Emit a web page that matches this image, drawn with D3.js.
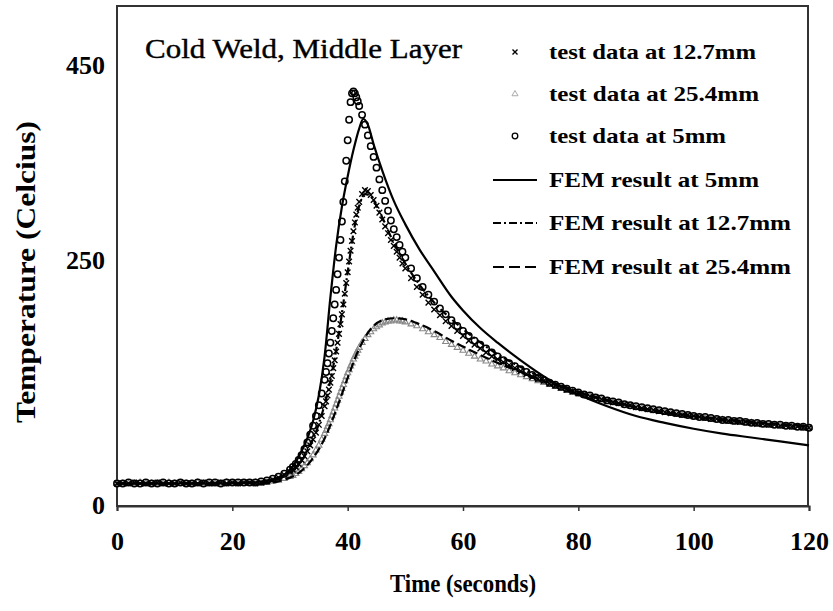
<!DOCTYPE html>
<html><head><meta charset="utf-8">
<script src="https://cdn.jsdelivr.net/npm/d3@7"></script>
<style>body{margin:0;background:#fff}svg{display:block}</style>
</head><body>
<svg id="chart" width="833" height="611"></svg>
<script>
// ---- data ----
const sampleTimes = [0,1,2,3,4,5,6,7,8,9,10,11,12,13,14,15,16,17,18,19,20,21,22,23,24,25,26,27,28,29,30,
30.5,31,31.5,32,32.5,33,33.5,34,34.5,35,35.5,36,
36.25,36.5,36.75,37,37.25,37.5,37.75,38,38.25,38.5,38.75,39,39.25,39.5,39.75,40,40.25,40.5,40.75,41,41.25,41.5,41.75,42,
42.5,43,43.5,44,44.5,45,45.5,46,46.5,47,47.5,48,48.5,49,49.5,50,
51,52,53,54,55,56,57,58,59,60,61,62,63,64,65,66,67,68,69,70,71,72,73,74,75,76,77,78,79,80,81,82,83,84,85,86,87,88,89,90,
91,92,93,94,95,96,97,98,99,100,101,102,103,104,105,106,107,108,109,110,111,112,113,114,115,116,117,118,119,120];

const test5mm = [22,22,23,22,22,23,22,22,23,22,22,23,22,22,23,22,23,23,22,23,23,23,23,23,23,24,25,27,29,32,36,
39,42,46,51,57,64,72,81,91,102,114,128,
136,145,155,166,178,191,205,220,236,253,271,290,310,331,352,373,394,412,421,423,421,417,413,408,
399,389,378,367,356,345,333,322,311,301,291,282,274,266,259,253,
242,232,223,215,208,201,195,189,183,178,173,168,164,160,156,152,148,145,142,139,136,133,130,128,125,123,121,119,117,115,113,112,110,109,107,106,105,103,102,101,
100,99,98,97,96,95,94,93,92,91,90,90,89,88,87,87,86,86,85,84,84,83,83,82,82,81,81,80,80,79];

const test12_7mm = [22,22,22,23,22,22,22,23,22,22,22,23,22,22,22,23,22,22,23,22,23,22,23,23,22,23,24,26,28,31,34,
36,39,42,46,50,55,61,67,74,82,91,101,
106,112,118,125,132,140,148,157,166,175,185,195,205,216,227,238,249,260,270,280,289,297,304,310,
318,322,321,317,312,306,299,292,285,278,271,265,259,253,247,242,
232,223,215,207,200,194,188,183,178,173,168,164,160,156,152,149,146,143,140,137,134,131,129,127,124,122,120,118,116,114,113,111,110,108,107,105,104,103,102,100,
99,98,97,96,95,94,93,92,92,91,90,89,88,88,87,86,86,85,85,84,83,83,82,82,81,81,80,80,79,79];

const test25_4mm = [22,22,22,22,23,22,22,22,22,23,22,22,22,22,23,22,22,22,22,23,22,22,22,22,23,22,23,24,25,27,29,
30,32,34,37,40,43,47,51,56,61,67,73,
76,80,83,87,91,95,99,103,107,111,115,119,123,127,131,135,138,142,145,149,152,155,158,161,
166,170,174,177,180,182,184,186,187,188,188,189,189,188,188,187,
185,183,180,177,174,171,167,164,161,158,155,152,149,147,144,142,140,137,135,133,131,129,127,125,123,121,119,117,115,114,112,111,109,108,106,105,104,102,101,100,
99,98,97,96,95,94,93,92,91,90,90,89,88,87,87,86,85,85,84,84,83,82,82,81,81,80,80,79,79,79];

const fem5Time = [0,20,25,28,30,32,33,34,35,36,37,38,39,40,41,42,42.7,43.5,44.5,46,48,50,52.5,55,58,60,63,66,70,75,80,85,90,95,100,105,110,115,120];
const fem5mm   = [22,22,24,28,36,55,68,86,112,152,212,265,305,336,363,385,395,389,369,342,311,287,261,239,213,199,181,166,148,128,113,101,91,84,78,73,69,65,61];

const fem12Time = [0,25,30,33,35,37,38,39,40,41,42,43,44,45,46,48,50,52,55,58,60,65,70,75,80,85,90,100,110,120];
const fem12_7mm = [22,23,33,55,83,127,158,196,238,278,306,318,316,306,294,268,247,229,207,190,180,158,141,127,116,107,100,90,84,80];

const fem25Time = [0,25,30,32,34,36,38,40,42,44,46,48,50,52,55,58,60,65,70,75,80,85,90,100,110,120];
const fem25_4mm = [22,22,28,35,48,68,97,130,160,180,189,191,190,186,178,168,162,148,136,125,115,107,100,91,85,81];

const xTicks = [0,20,40,60,80,100,120];
const yTicks = [0,250,450];

const legendLabels = ["test data at 12.7mm","test data at 25.4mm","test data at 5mm","FEM result at 5mm","FEM result at 12.7mm","FEM result at 25.4mm"];

// ---- drawing ----
const svg = d3.select("#chart");
const x = d3.scaleLinear().domain([0,120]).range([117,809]);
const y = d3.scaleLinear().domain([0,450]).range([505,65]);
const serif = "'Liberation Serif','Times New Roman',serif";

// frame
svg.append("rect").attr("x",117).attr("y",6).attr("width",691).attr("height",500)
  .attr("fill","none").attr("stroke","#333").attr("stroke-width",2);

// x axis
const gx = svg.append("g").attr("transform","translate(0,506)")
  .call(d3.axisBottom(x).tickValues(xTicks).tickSize(5).tickFormat(d3.format("d")));
gx.select(".domain").attr("stroke","#333").attr("stroke-width",2);
gx.selectAll(".tick line").attr("stroke","#333").attr("stroke-width",1.5);
gx.selectAll(".tick text").attr("y",36).attr("dy","0.32em").attr("fill","#000")
  .style("font-family",serif).style("font-size","26px").style("font-weight","bold");

// y axis
const gy = svg.append("g").attr("transform","translate(117,0)")
  .call(d3.axisLeft(y).tickValues(yTicks).tickSize(0).tickPadding(12));
gy.select(".domain").remove();
gy.selectAll(".tick text").attr("fill","#000")
  .style("font-family",serif).style("font-size","26px").style("font-weight","bold");

// axis titles
svg.append("text").attr("x",463).attr("y",592).attr("text-anchor","middle")
  .attr("textLength",146).attr("lengthAdjust","spacingAndGlyphs")
  .style("font-family",serif).style("font-size","26px").style("font-weight","bold").text("Time (seconds)");
svg.append("text").attr("transform","translate(35,272) rotate(-90)").attr("text-anchor","middle")
  .attr("textLength",302).attr("lengthAdjust","spacingAndGlyphs")
  .style("font-family",serif).style("font-size","27px").style("font-weight","bold").text("Temperature (Celcius)");

// title
svg.append("text").attr("x",145).attr("y",58).attr("textLength",317).attr("lengthAdjust","spacingAndGlyphs")
  .attr("stroke","#000").attr("stroke-width",0.4)
  .style("font-family",serif).style("font-size","27px").text("Cold Weld, Middle Layer");

// FEM lines
const plot = svg.append("g");
function fem(times, vals, dash){
  const pts = times.map((t,i)=>[t, vals[i]]);
  plot.append("path").datum(pts)
    .attr("d", d3.line().x(d=>x(d[0])).y(d=>y(d[1])).curve(d3.curveMonotoneX))
    .attr("fill","none").attr("stroke","#000").attr("stroke-width",2.2)
    .attr("stroke-dasharray", dash);
}

// test data markers
const tri = d3.symbol().type(d3.symbolTriangle).size(16);
plot.append("g").selectAll("path").data(sampleTimes.map((t,i)=>[t,test25_4mm[i]])).join("path")
  .attr("d",tri).attr("transform",d=>`translate(${x(d[0])},${y(d[1])})`)
  .attr("fill","none").attr("stroke","#888").attr("stroke-width",1.1);

fem(fem25Time, fem25_4mm, "9,4");
fem(fem12Time, fem12_7mm, "8,3,2,3");

function cross(g, cx, cy, s){
  g.append("path").attr("d",`M${cx-s},${cy-s}L${cx+s},${cy+s}M${cx-s},${cy+s}L${cx+s},${cy-s}`)
   .attr("stroke","#000").attr("stroke-width",1.4);
}
const gX = plot.append("g");
sampleTimes.forEach((t,i)=>cross(gX, x(t), y(test12_7mm[i]), 2.8));

plot.append("g").selectAll("circle").data(sampleTimes.map((t,i)=>[t,test5mm[i]])).join("circle")
  .attr("cx",d=>x(d[0])).attr("cy",d=>y(d[1])).attr("r",3.2)
  .attr("fill","none").attr("stroke","#000").attr("stroke-width",1.5);

fem(fem5Time, fem5mm, null);

// legend
const legY = [52,94,136,180,223,267];
const lg = svg.append("g");
cross(lg, 515, legY[0], 2.5);
lg.append("path").attr("d",tri).attr("transform",`translate(515,${legY[1]})`).attr("fill","none").attr("stroke","#aaa");
lg.append("circle").attr("cx",515).attr("cy",legY[2]).attr("r",2.8).attr("fill","none").attr("stroke","#000").attr("stroke-width",1.3);
[null,"8,3,2,3","11,5"].forEach((dash,i)=>{
  lg.append("line").attr("x1",493).attr("x2",537).attr("y1",legY[3+i]).attr("y2",legY[3+i])
    .attr("stroke","#000").attr("stroke-width",2).attr("stroke-dasharray",dash);
});
const legW = [207,210,177,210,242,242];
legendLabels.forEach((s,i)=>{
  lg.append("text").attr("x",549).attr("y",legY[i]).attr("dy","0.32em")
    .attr("textLength",legW[i]).attr("lengthAdjust","spacingAndGlyphs")
    .style("font-family",serif).style("font-size","22px").style("font-weight","bold").text(s);
});
</script>
</body></html>
